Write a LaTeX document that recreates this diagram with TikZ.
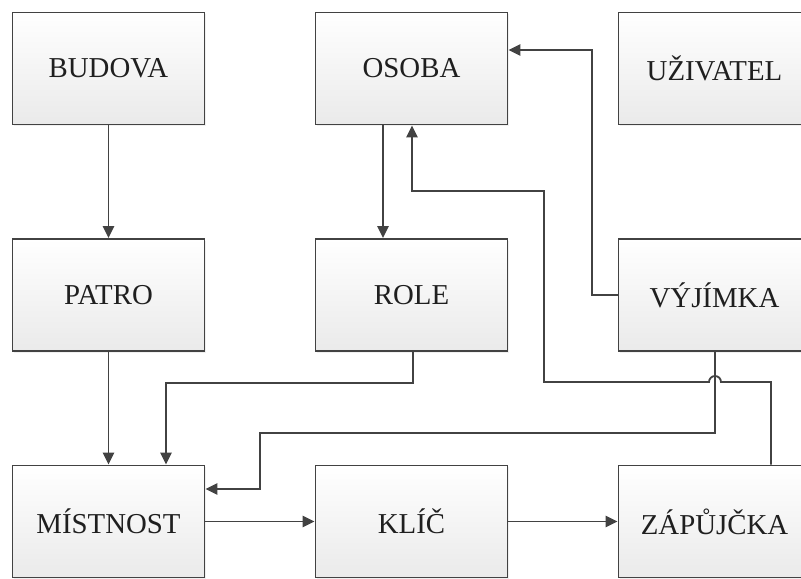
\documentclass[tikz,border=0pt]{standalone}
\usepackage{fontspec}
\setmainfont{Liberation Serif}
\usetikzlibrary{arrows.meta,shadows}
\definecolor{linegray}{HTML}{424242}
\definecolor{boxbottom}{HTML}{EAEAEA}
\begin{document}
\begin{tikzpicture}[x=0.025cm,y=-0.025cm,font=\fontsize{20.5}{24}\selectfont,
 entity/.style={draw=linegray,line width=1.3pt,top color=white,bottom color=boxbottom,
  minimum width=4.8cm,minimum height=2.8cm,inner sep=0pt,text=black!88,
  drop shadow={opacity=0.12,shadow xshift=1.2pt,shadow yshift=-1.2pt}},
 link/.style={draw=linegray,line width=1.3pt},
 arr/.style={link,-{Triangle[length=8.5pt,width=8pt]}}]
\useasboundingbox (0,0) rectangle (801,578);
\clip (0,0) rectangle (801,578);
% entities
\node[entity] (budova)   at (108.5,68.5) {BUDOVA};
\node[entity] (osoba)    at (411.5,68.5) {OSOBA};
\node[entity] (uzivatel) at (714.5,68.5) {UŽIVATEL};
\node[entity] (patro)    at (108.5,295)  {PATRO};
\node[entity] (role)     at (411.5,295)  {ROLE};
\node[entity] (vyjimka)  at (714.5,295)  {VÝJÍMKA};
\node[entity] (mistnost) at (108.5,521.5) {MÍSTNOST};
\node[entity] (klic)     at (411.5,521.5) {KLÍČ};
\node[entity] (zapujcka) at (714.5,521.5) {ZÁPŮJČKA};
% relations
\draw[arr] (budova) -- (patro);
\draw[arr] (patro) -- (mistnost);
\draw[arr] (mistnost) -- (klic);
\draw[arr] (klic) -- (zapujcka);
\draw[arr] (383,0 |- osoba.south) -- (383,0 |- role.north);
\draw[arr] (vyjimka.west) -- (592,0 |- vyjimka.west) |- (osoba.east |- 0,50);
\draw[arr] (413,0 |- role.south) |- (166,383) -- (166,0 |- mistnost.north);
\draw[arr] (715,0 |- vyjimka.south) |- (260,433) |- (mistnost.east |- 0,489);
\draw[arr] (771,0 |- zapujcka.north) -- (771,382) -- (721,382)
  arc[start angle=0,end angle=-180,radius=6] -- (544,382) |- (412,191)
  -- (412,0 |- osoba.south);
\end{tikzpicture}
\end{document}
